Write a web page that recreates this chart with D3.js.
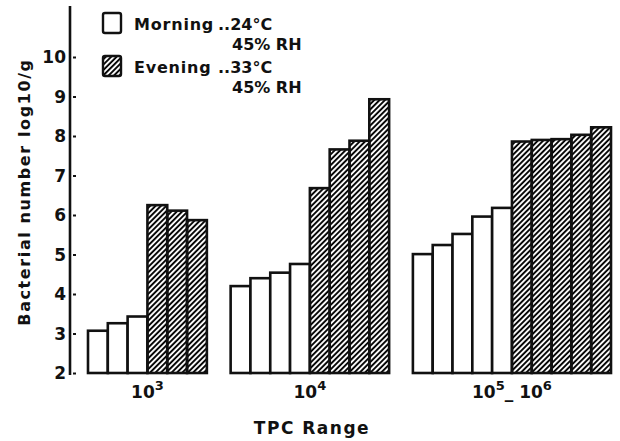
<!DOCTYPE html>
<html>
<head>
<meta charset="utf-8">
<script src="https://cdn.jsdelivr.net/npm/d3@7"></script>
<style>
  body { margin: 0; background: #fff; }
  svg { display: block; font-family: "DejaVu Sans", sans-serif; font-weight: bold; }
</style>
</head>
<body>
<svg id="canvas"></svg>
<script>
// data
let groups = [["10", "3"], ["10", "4"], ["10", "5", "_ 10", "6"]];
let morning = [
  [3.07, 3.26, 3.43],
  [4.2, 4.4, 4.54, 4.76],
  [5.01, 5.24, 5.52, 5.96, 6.18],
];
let evening = [
  [6.25, 6.11, 5.87],
  [6.68, 7.66, 7.88, 8.93],
  [7.86, 7.9, 7.92, 8.03, 8.22],
];
let yTicks = [2, 3, 4, 5, 6, 7, 8, 9, 10];

let width = 620;
let height = 441;
let gapUnits = 1.2;

let canvas = d3.select("#canvas").attr("width", width).attr("height", height);

// hatch for evening bars
let defs = canvas.append("defs");
defs
  .append("pattern")
  .attr("id", "hatch")
  .attr("patternUnits", "userSpaceOnUse")
  .attr("width", 3.8)
  .attr("height", 3.8)
  .attr("patternTransform", "rotate(45)")
  .append("line")
  .attr("x1", 1)
  .attr("y1", 0)
  .attr("x2", 1)
  .attr("y2", 3.8)
  .attr("stroke", "#000")
  .attr("stroke-width", 1.9);

// flatten into slots
let bars = [];
let groupCenters = [];
let slot = 0;
groups.forEach((g, gi) => {
  let start = slot;
  morning[gi].forEach((v) => {
    bars.push({ value: v, slot: slot, type: "m" });
    slot++;
  });
  evening[gi].forEach((v) => {
    bars.push({ value: v, slot: slot, type: "e" });
    slot++;
  });
  groupCenters.push({ parts: g, center: (start + slot) / 2 });
  slot += gapUnits;
});
let totalSlots = slot - gapUnits;

let xScale = d3.scaleLinear().domain([0, totalSlots]).range([88, 611]);
let yScale = d3.scaleLinear().domain([2, 10]).range([373, 57]);

let bw = xScale(1) - xScale(0);

canvas
  .selectAll("rect.bar")
  .data(bars)
  .enter()
  .append("rect")
  .attr("class", "bar")
  .attr("x", (d) => xScale(d.slot))
  .attr("width", bw)
  .attr("y", (d) => yScale(d.value))
  .attr("height", (d) => yScale(2) - yScale(d.value))
  .attr("fill", (d) => (d.type == "e" ? "url(#hatch)" : "#fff"))
  .attr("stroke", "#111")
  .attr("stroke-width", 2.6);

// y axis
let yAxis = d3
  .axisRight(yScale)
  .tickValues(yTicks)
  .tickSize(5)
  .tickFormat("");
let ya = canvas.append("g").attr("transform", "translate(71,0)").call(yAxis);
ya.select(".domain").remove();
ya.selectAll(".tick line").attr("stroke", "#111").attr("stroke-width", 2).attr("x1", 2);

canvas
  .append("line")
  .attr("x1", 70)
  .attr("x2", 70)
  .attr("y1", 6)
  .attr("y2", yScale(2) + 2)
  .attr("stroke", "#111")
  .attr("stroke-width", 2.6);

canvas
  .selectAll("text.ytick")
  .data(yTicks)
  .enter()
  .append("text")
  .attr("class", "ytick")
  .attr("x", 66)
  .attr("y", (d) => yScale(d) + 6)
  .attr("text-anchor", "end")
  .attr("font-size", 17)
  .attr("fill", "#111")
  .text((d) => d);

// group labels, with raised exponents
let gl = canvas
  .selectAll("text.glabel")
  .data(groupCenters)
  .enter()
  .append("text")
  .attr("class", "glabel")
  .attr("x", (d) => xScale(d.center))
  .attr("y", 398)
  .attr("text-anchor", "middle")
  .attr("font-size", 17)
  .attr("fill", "#111");
gl.each(function (d) {
  let t = d3.select(this);
  d.parts.forEach((p, i) => {
    let sup = i % 2 == 1;
    t.append("tspan")
      .attr("font-size", sup ? 13 : 17)
      .attr("dy", i == 0 ? 0 : sup ? -8 : 8)
      .text(p);
  });
});

canvas
  .append("text")
  .attr("x", 312)
  .attr("y", 434)
  .attr("text-anchor", "middle")
  .attr("font-size", 17)
  .attr("letter-spacing", 1.5)
  .attr("fill", "#111")
  .text("TPC Range");

canvas
  .append("text")
  .attr("transform", "translate(30,192) rotate(-90)")
  .attr("text-anchor", "middle")
  .attr("font-size", 16)
  .attr("letter-spacing", 1.6)
  .attr("fill", "#111")
  .text("Bacterial number log10/g");

// legend
let legend = canvas.append("g").attr("font-size", 16).attr("fill", "#111");
let legendRows = [
  { name: "Morning", temp: "..24°C", fill: "#fff", y: 13 },
  { name: "Evening", temp: "..33°C", fill: "url(#hatch)", y: 56 },
];
legendRows.forEach((r) => {
  legend
    .append("rect")
    .attr("x", 103)
    .attr("y", r.y)
    .attr("width", 18)
    .attr("height", 20)
    .attr("rx", 2)
    .attr("fill", r.fill)
    .attr("stroke", "#111")
    .attr("stroke-width", 2.4);
  legend.append("text").attr("x", 134).attr("y", r.y + 17).attr("letter-spacing", 0.8).text(r.name);
  legend.append("text").attr("x", 218).attr("y", r.y + 17).text(r.temp);
  legend.append("text").attr("x", 232).attr("y", r.y + 37).text("45% RH");
});
</script>
</body>
</html>
